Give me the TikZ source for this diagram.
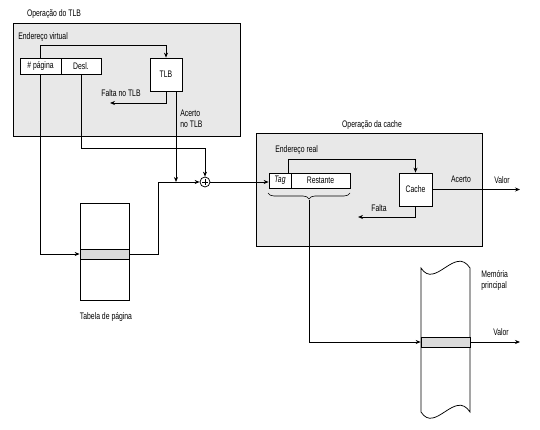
\documentclass[tikz,border=0pt]{standalone}
\usepackage{fontspec}
\setmainfont{Liberation Sans}[FakeStretch=0.72]
\usetikzlibrary{arrows.meta,decorations.pathreplacing}
\begin{document}
\begin{tikzpicture}[x=1pt,y=-1pt,
  line width=0.75pt,
  font=\fontsize{9.5}{11}\selectfont,
  arr/.style={-{Stealth[length=5pt,width=4pt]}},
  opbox/.style={draw,fill=black!9,minimum width=#1,inner sep=0pt},
  bx/.style={draw,fill=white,inner sep=0pt},
  row/.style={draw,fill=black!14,inner sep=0pt,minimum width=49pt,minimum height=10pt},
  lbl/.style={inner sep=0pt}]
\useasboundingbox (0,0) rectangle (540,430);
% ---------- TLB operation ----------
\node[opbox=227pt,minimum height=113pt] (tlbop) at (126.5,79.5) {};
\node[lbl] (t1) at (54,14) {Operação do TLB};
\node[lbl,anchor=west] (ev) at (18,37) {Endereço virtual};
\node[bx,minimum width=41pt,minimum height=16pt] (pg) at (40.5,66) {\# página};
\node[bx,minimum width=40pt,minimum height=16pt] (desl) at (81,66) {Desl.};
\node[bx,minimum width=32pt,minimum height=33pt] (tlb) at (166,74.5) {TLB};
\node[lbl] (ftlb) at (121,93) {Falta no TLB};
\node[lbl,anchor=west,align=left] (atlb) at (180,119) {Acerto\\no TLB};
\coordinate (vtop) at (0,45);
\coordinate (falta1) at (110,103);
\draw[arr] (pg.north) -- (pg.north |- vtop) -| (tlb.north);
\draw[arr] (tlb.south) |- (falta1);
% ---------- page table ----------
\node[bx,minimum width=49pt,minimum height=97pt] (pt) at (104.5,251.5) {};
\node[row] (ptrow) at (104.5,254) {};
\node[lbl] (ptl) at (106,317) {Tabela de página};
% ---------- adder ----------
\node[draw,circle,fill=white,minimum size=10pt,inner sep=0pt] (sum) at (205,182) {};
\draw[line width=0.5pt] ([yshift=3pt]sum.center) -- ([yshift=-3pt]sum.center)
  ([xshift=-3pt]sum.center) -- ([xshift=3pt]sum.center);
\coordinate (dtop) at (0,148);
\coordinate (bend) at (158,182);
\coordinate (hit) at (176,182);
\draw[arr] (pg.south) |- (ptrow.west);
\draw[arr] (desl.south) -- (desl.south |- dtop) -| (sum.north);
\draw[arr] ([xshift=10pt]tlb.south) -- (hit);
\draw[arr] (ptrow.east) -| (bend) -- (sum.west);
% ---------- cache operation ----------
\node[opbox=226pt,minimum height=113pt] (cacheop) at (369,189.5) {};
\node[lbl] (t2) at (372,125) {Operação da cache};
\node[lbl,anchor=west] (er) at (275,150) {Endereço real};
\node[bx,minimum width=22pt,minimum height=15pt] (tag) at (280,180.5) {\textit{Tag}};
\node[bx,minimum width=59pt,minimum height=15pt] (rest) at (320.5,180.5) {Restante};
\node[bx,minimum width=33pt,minimum height=33pt] (cache) at (415.5,189.5) {Cache};
\node[lbl] (falta) at (379,208) {Falta};
\node[lbl] (acerto) at (461,179) {Acerto};
\node[lbl] (valor1) at (502,180) {Valor};
\coordinate (rtop) at (0,159);
\coordinate (falta2) at (358,217);
\coordinate (val1) at (520,189.5);
\draw[arr] (sum.east) -- (sum.east -| tag.west);
\draw[arr] ([xshift=8pt]tag.north) -- ([xshift=8pt]tag.north |- rtop) -| (cache.north);
\draw[arr] (cache.south) |- (falta2);
\draw[arr] (cache.east) -- (val1);
\draw[line width=0.6pt,decorate,decoration={brace,mirror,amplitude=6pt}]
  (268,193) -- (350,193);
\coordinate (btip) at (309,200);
% ---------- main memory ----------
\draw[fill=white] (421,268) .. controls (435,290) and (455,245) .. (470,268)
  -- (470,412) .. controls (455,389) and (435,434) .. (421,412) -- cycle;
\node[row] (memrow) at (445.5,342) {};
\node[lbl,anchor=west,align=left] (mem) at (481,280) {Memória\\principal};
\node[lbl] (valor2) at (501,332) {Valor};
\coordinate (val2) at (520,342);
\draw[arr] (btip) |- (memrow.west);
\draw[arr] (memrow.east) -- (val2);
\end{tikzpicture}
\end{document}
